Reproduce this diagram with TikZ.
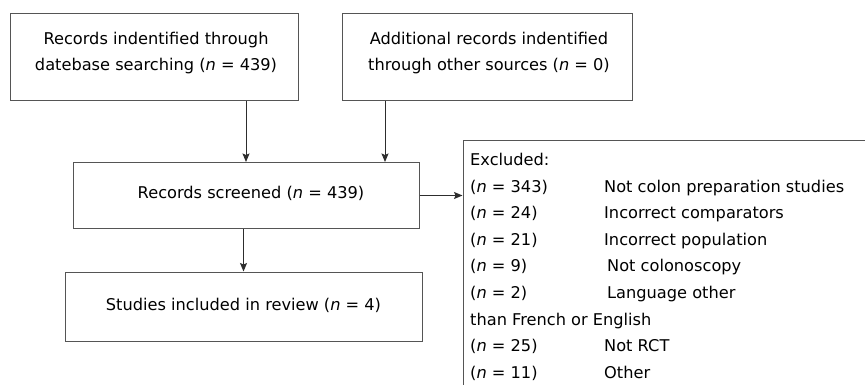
\documentclass[tikz,border=0pt]{standalone}
\usepackage{fontspec}
\setmainfont{DejaVu Sans}
\usetikzlibrary{arrows.meta}
\definecolor{boxgray}{RGB}{85,85,85}
\definecolor{linegray}{RGB}{45,45,45}
\tikzset{
  boxnode/.style={draw=boxgray, line width=1pt, inner sep=0pt, rectangle},
  txt/.style={inner sep=0pt, anchor=base, font=\fontsize{16.2}{19}\selectfont},
  ltxt/.style={inner sep=0pt, anchor=base west, font=\fontsize{16.2}{19}\selectfont},
  arr/.style={draw=linegray, line width=1pt, -{Stealth[length=8.5pt,width=7pt,inset=1.5pt]}}
}
\begin{document}
\begin{tikzpicture}[x=1pt,y=-1pt]
\clip (0,0) rectangle (865,385);
\fill[white] (0,0) rectangle (865,385);
% boxes
\node[boxnode, minimum width=288pt, minimum height=87pt] (box1) at (154,57.5) {};
\node[boxnode, minimum width=290pt, minimum height=87pt] (box2) at (487,57.5) {};
\node[boxnode, minimum width=346pt, minimum height=66pt] (box3) at (246,195.5) {};
\node[boxnode, minimum width=357pt, minimum height=69pt] (box4) at (243.5,306.5) {};
\node[boxnode, minimum width=417pt, minimum height=259pt] (excl) at (671.5,270.5) {};
% box texts
\node[txt] (t1a) at (156,44.5) {Records indentified through};
\node[txt] (t1b) at (156,70.5) {datebase searching (\textit{n} = 439)};
\node[txt] (t2a) at (489,44.5) {Additional records indentified};
\node[txt] (t2b) at (489,70.5) {through other sources (\textit{n} = 0)};
\node[txt] (t3) at (251,198.5) {Records screened (\textit{n} = 439)};
\node[txt] (t4) at (243.5,310.5) {Studies included in review (\textit{n} = 4)};
% excluded list
\node[ltxt] (e0) at (470,165.5) {Excluded:};
\node[ltxt] (e1a) at (470,192.1) {(\textit{n} = 343)};
\node[ltxt] (e1b) at (604,192.1) {Not colon preparation studies};
\node[ltxt] (e2a) at (470,218.7) {(\textit{n} = 24)};
\node[ltxt] (e2b) at (604,218.7) {Incorrect comparators};
\node[ltxt] (e3a) at (470,245.3) {(\textit{n} = 21)};
\node[ltxt] (e3b) at (604,245.3) {Incorrect population};
\node[ltxt] (e4a) at (470,271.9) {(\textit{n} = 9)};
\node[ltxt] (e4b) at (607,271.9) {Not colonoscopy};
\node[ltxt] (e5a) at (470,298.5) {(\textit{n} = 2)};
\node[ltxt] (e5b) at (607,298.5) {Language other};
\node[ltxt] (e6) at (470,325.1) {than French or English};
\node[ltxt] (e7a) at (470,351.7) {(\textit{n} = 25)};
\node[ltxt] (e7b) at (604,351.7) {Not RCT};
\node[ltxt] (e8a) at (470,378.3) {(\textit{n} = 11)};
\node[ltxt] (e8b) at (604,378.3) {Other};
% connectors
\coordinate (a2) at (385,101);
\draw[arr] (box1.south -| box3.north) -- (box3.north);
\draw[arr] (a2) -- (a2 |- box3.north);
\draw[arr] (box4.north |- box3.south) -- (box4.north);
\draw[arr] (box3.east) -- (box3.east -| excl.west);
\end{tikzpicture}
\end{document}
